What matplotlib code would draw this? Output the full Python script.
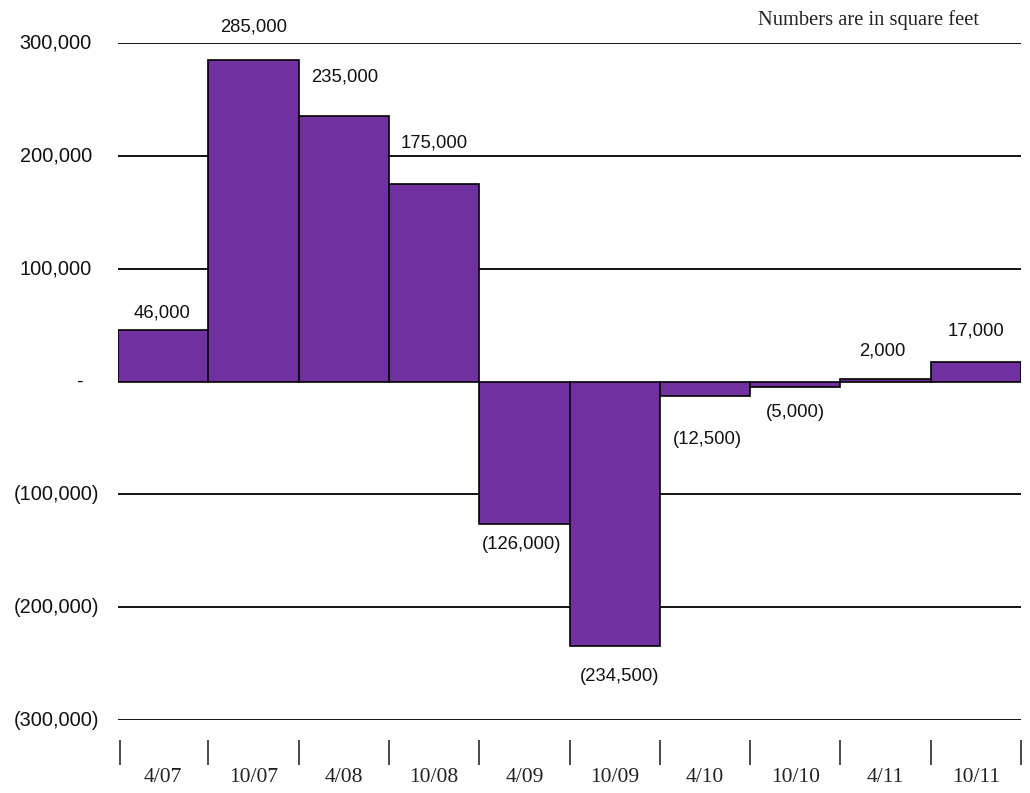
import matplotlib
matplotlib.use("Agg")
import matplotlib.pyplot as plt
import numpy as np

# Net absorption by half-year period
periods = ["4/07", "10/07", "4/08", "10/08", "4/09", "10/09", "4/10", "10/10", "4/11", "10/11"]
values = [46000, 285000, 235000, 175000, -126000, -234500, -12500, -5000, 2000, 17000]
y_ticks = [300000, 200000, 100000, 0, -100000, -200000, -300000]

# Label placement (pixel offsets from the bar end: dx, dy)
label_dx = [-1, 0, 1, 0, -3, 5, 2.5, 0, -3, 0]
label_dy = [17, 32.5, 39, 41, 21, 30, 44, 25, 28, 31]

BAR_COLOR = "#7030A0"
SANS = "Liberation Sans"
SERIF = "Liberation Serif"
DPI = 100
W, H = 1030, 793


def fmt(v):
    if v == 0:
        return "-"
    s = f"{abs(v):,.0f}"
    return f"({s})" if v < 0 else s


fig = plt.figure(figsize=(W / DPI, H / DPI), dpi=DPI)
left, right, top, bottom = 118, 1021, 43, 720
ax = fig.add_axes([left / W, 1 - bottom / H, (right - left) / W, (bottom - top) / H])

x = np.arange(len(periods))
ax.bar(x, values, width=1.0, color=BAR_COLOR, edgecolor="black", linewidth=1.2, zorder=3)

ax.set_xlim(-0.5, len(periods) - 0.5)
ax.set_ylim(-300000, 300000)

# Horizontal gridlines (no line at zero)
for t in y_ticks:
    if t != 0:
        ax.axhline(t, color="black", linewidth=1.3, zorder=1)

for s in ax.spines.values():
    s.set_visible(False)
ax.set_xticks([])
ax.set_yticks([])

# Y-axis labels in accounting style
ytr = ax.get_yaxis_transform()
axw = right - left
for t in y_ticks:
    lab = fmt(t)
    if t > 0:
        ax.text((92 - left) / axw, t, lab, transform=ytr, ha="right", va="center",
                fontsize=14.4, family=SANS, color="#111111")
    elif t < 0:
        ax.text((99.5 - left) / axw, t, lab, transform=ytr, ha="right", va="center",
                fontsize=14.4, family=SANS, color="#111111")
    else:
        ax.text((79 - left) / axw, t, lab, transform=ytr, ha="center", va="center",
                fontsize=14.4, family=SANS, color="#111111")

# Category separators and labels below the plot
axh = bottom - top
xtr = ax.get_xaxis_transform()
bounds = np.arange(len(periods) + 1) - 0.5
sep_x = [b + (0.02 if i == 0 else 0) for i, b in enumerate(bounds)]
ax.vlines(sep_x, -(740 - bottom) / axh, -(765 - bottom) / axh, transform=xtr,
          color="#3a3a3a", linewidth=1.3, clip_on=False)
for xi, p in zip(x, periods):
    ax.text(xi, -(778 - bottom) / axh, p, transform=xtr, ha="center", va="center",
            fontsize=15.5, family=SERIF, color="#222222")

# Value labels
for xi, v, dx, dy in zip(x, values, label_dx, label_dy):
    sign = 1 if v >= 0 else -1
    ax.annotate(fmt(v), xy=(xi, v), xytext=(dx * 72 / DPI, sign * dy * 72 / DPI),
                textcoords="offset points", ha="center", va="center",
                fontsize=13.3, family=SANS, color="#111111", zorder=4)

fig.text(868 / W, 1 - 20 / H, "Numbers are in square feet", ha="center", va="center",
         fontsize=14.8, family=SERIF, color="#222222")

fig.savefig("out.png", dpi=DPI)
